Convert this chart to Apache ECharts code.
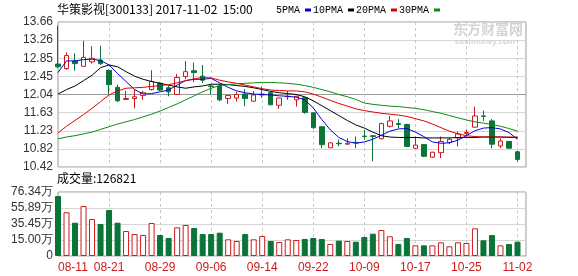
<!DOCTYPE html>
<html><head><meta charset="utf-8">
<script src="https://cdn.jsdelivr.net/npm/echarts@6/dist/echarts.min.js"></script>
<style>html,body{margin:0;padding:0;background:#fff}#c{width:578px;height:276px}</style>
</head><body><div id="c"></div>
<script>
const dates = ['08-11','08-14','08-15','08-16','08-17','08-18','08-21','08-22','08-23','08-24','08-25','08-28','08-29','08-30','08-31','09-01','09-04','09-05','09-06','09-07','09-08','09-11','09-12','09-13','09-14','09-15','09-18','09-19','09-20','09-21','09-22','09-25','09-26','09-27','09-28','09-29','10-09','10-10','10-11','10-12','10-13','10-16','10-17','10-18','10-19','10-20','10-23','10-24','10-25','10-26','10-27','10-30','10-31','11-01','11-02'];
const opens  = [12.72,12.62,12.79,12.67,12.77,12.81,12.58,12.20,11.93,11.95,12.02,12.15,12.29,12.19,12.04,12.44,12.57,12.45,12.23,12.23,11.95,11.96,12.05,11.89,12.03,12.08,11.80,11.99,11.92,11.97,11.63,11.32,10.85,10.95,10.93,10.97,11.11,11.12,11.05,11.33,11.39,11.37,10.84,10.92,10.64,10.74,10.97,11.07,11.17,11.31,11.56,11.45,10.89,10.99,10.76];
const closes = [12.66,12.91,12.73,12.87,12.85,12.73,12.26,11.90,11.95,11.99,12.08,12.33,12.14,12.10,12.42,12.55,12.53,12.36,12.22,11.92,12.02,12.04,11.95,12.03,12.05,11.81,11.96,12.00,12.00,11.64,11.30,10.92,10.96,10.94,10.95,10.96,11.10,11.10,11.39,11.45,11.37,10.88,10.91,10.66,10.75,10.99,11.04,11.16,11.19,11.56,11.55,10.93,11.00,10.84,10.59];
const lows   = [12.63,12.59,12.57,12.67,12.73,12.70,12.05,11.87,11.93,11.73,11.92,12.13,12.12,12.00,12.04,12.38,12.32,12.30,12.04,11.89,11.83,11.88,11.78,11.88,11.96,11.80,11.72,11.92,11.77,11.61,11.27,10.84,10.85,10.88,10.92,10.84,11.03,10.55,11.04,11.30,11.29,10.87,10.83,10.64,10.62,10.62,10.93,10.88,11.10,11.30,11.45,10.84,10.84,10.83,10.54];
const highs  = [13.58,12.98,12.96,13.24,13.12,13.13,12.60,12.26,12.12,12.15,12.12,12.58,12.32,12.24,12.50,12.79,12.75,12.70,12.25,12.27,12.03,12.10,12.16,12.12,12.22,12.10,11.97,12.12,12.01,11.98,11.64,11.33,10.97,11.03,11.06,11.10,11.25,11.13,11.41,11.56,11.49,11.39,11.10,10.93,10.76,11.10,11.07,11.21,11.26,11.77,11.68,11.49,11.06,11.00,10.78];
const volumes = [71.6,52.1,39.7,59.6,44.1,38.2,54.9,39.7,29.8,26.2,25.0,39.4,25.0,21.5,34.2,37.0,33.4,26.2,26.2,27.8,19.9,17.9,26.2,19.9,23.9,17.9,16.7,19.9,19.1,20.3,21.5,20.3,14.3,18.3,17.9,17.1,22.7,26.6,31.0,23.5,14.3,21.5,12.7,12.7,12.7,16.3,11.5,16.3,15.5,33.0,18.7,25.0,12.7,14.3,17.1];
const ma5  = [12.53,12.79,12.79,12.82,12.83,12.80,12.70,12.51,12.33,12.15,12.05,12.06,12.10,12.14,12.25,12.35,12.38,12.38,12.40,12.30,12.20,12.12,12.08,12.05,12.04,12.03,12.01,12.00,11.98,11.92,11.74,11.48,11.25,11.08,10.99,10.95,10.98,11.04,11.13,11.22,11.27,11.28,11.20,11.10,10.98,10.95,10.96,11.02,11.12,11.23,11.29,11.30,11.27,11.19,11.04];
const ma10 = [12.05,12.15,12.23,12.35,12.47,12.64,12.70,12.66,12.55,12.45,12.38,12.33,12.29,12.25,12.21,12.18,12.21,12.23,12.27,12.27,12.26,12.24,12.22,12.19,12.15,12.11,12.08,12.06,12.04,11.99,11.90,11.79,11.68,11.57,11.46,11.36,11.29,11.20,11.12,11.09,11.08,11.08,11.08,11.07,11.07,11.07,11.07,11.08,11.08,11.08,11.09,11.09,11.09,11.08,11.08];
const ma20 = [11.18,11.33,11.46,11.59,11.73,11.88,12.03,12.12,12.18,12.19,12.20,12.22,12.24,12.26,12.30,12.35,12.39,12.42,12.41,12.36,12.32,12.29,12.25,12.21,12.17,12.14,12.13,12.12,12.12,12.10,12.05,11.98,11.91,11.84,11.78,11.72,11.68,11.65,11.62,11.60,11.58,11.55,11.50,11.45,11.38,11.30,11.22,11.16,11.12,11.10,11.09,11.09,11.09,11.09,11.09];
const ma30 = [11.05,11.09,11.12,11.16,11.20,11.26,11.32,11.38,11.43,11.48,11.54,11.60,11.67,11.75,11.83,11.92,12.01,12.10,12.18,12.24,12.26,12.28,12.29,12.30,12.31,12.31,12.30,12.29,12.27,12.24,12.20,12.15,12.10,12.04,11.99,11.93,11.85,11.82,11.80,11.78,11.77,11.75,11.73,11.70,11.66,11.62,11.57,11.52,11.47,11.43,11.40,11.37,11.33,11.28,11.22];
const priceTicks = ['10.42','10.82','11.23','11.63','12.04','12.45','12.85','13.26','13.66'];
const volTicks = ['0','15.00万','35.45万','55.89万','76.34万'];
const legendNames = ['5PMA','10PMA','20PMA','30PMA'];
const titleText = '华策影视[300133] 2017-11-02  15:00';
const volText = '成交量:126821';

const RED = '#cc1a1a', GREEN = '#0b7438';
const maColors = ['#0000dd','#000000','#dd0000','#118811'];
const cats = dates.concat(['']);
const chart = echarts.init(document.getElementById('c'), null, {renderer: 'canvas'});
const axisFont = {fontFamily: '"Liberation Sans", Arial, sans-serif', fontSize: 12, color: '#333'};
const mkX = (gi, showLabel) => ({
  type: 'category', gridIndex: gi, data: cats, boundaryGap: false,
  axisLine: {show: false}, axisTick: {show: false},
  axisLabel: showLabel ? {show: true, interval: 5, color: RED, fontSize: 12, fontFamily: '"Liberation Sans", Arial, sans-serif', margin: 6, alignMinLabel: 'left'} : {show: false},
  splitLine: {show: true, interval: 5, lineStyle: {color: '#c8c8c8', type: [3, 3], width: 1}}
});
const hColors = ['#d6d6d6','#d6d6d6','#d6d6d6','#d6d6d6','#999999','#d6d6d6','#d6d6d6','#d6d6d6','#d6d6d6'];
chart.setOption({
  animation: false,
  grid: [
    {left: 58, top: 22, width: 468, height: 145, show: true, borderColor: '#999', borderWidth: 1},
    {left: 58, top: 192, width: 468, height: 64, show: true, borderColor: '#999', borderWidth: 1}
  ],
  legend: {data: legendNames, left: 276, top: 5, align: 'right', icon: 'rect', itemWidth: 6, itemHeight: 3, itemGap: 2, selectedMode: false, padding: 0,
    textStyle: {fontSize: 10, color: '#000', fontFamily: '"Liberation Mono", "DejaVu Sans Mono", monospace', padding: [0, 0, 0, 0]}},
  xAxis: [mkX(0, false), mkX(1, true)],
  yAxis: [
    {type: 'value', gridIndex: 0, min: 10.42, max: 13.66, interval: 0.405,
      axisLine: {show: false}, axisTick: {show: false},
      axisLabel: Object.assign({margin: 5, formatter: v => priceTicks[Math.round((v - 10.42) / 0.405)] || ''}, axisFont),
      splitLine: {show: true, lineStyle: {color: hColors, width: 1}}},
    {type: 'value', gridIndex: 1, min: 0, max: 76.34, interval: 19.085,
      axisLine: {show: false}, axisTick: {show: false},
      axisLabel: Object.assign({margin: 5, formatter: v => volTicks[Math.round(v / 19.085)] || ''}, axisFont),
      splitLine: {show: true, lineStyle: {color: '#d6d6d6', width: 1}}}
  ],
  series: [
    {type: 'candlestick', xAxisIndex: 0, yAxisIndex: 0, barWidth: 5,
      data: dates.map((d, i) => [opens[i], closes[i], lows[i], highs[i]]),
      itemStyle: {color: '#fff', color0: GREEN, borderColor: RED, borderColor0: GREEN, borderWidth: 1}},
    ...legendNames.map((n, k) => ({
      name: n, type: 'line', xAxisIndex: 0, yAxisIndex: 0, symbol: 'none', smooth: false,
      data: [ma5, ma10, ma20, ma30][k],
      lineStyle: {width: 1, color: maColors[k]}, itemStyle: {color: maColors[k]}
    })),
    {type: 'bar', xAxisIndex: 1, yAxisIndex: 1, barWidth: 6,
      data: volumes.map((v, i) => ({value: v, itemStyle: closes[i] >= opens[i]
        ? {color: '#fff', borderColor: RED, borderWidth: 1}
        : {color: GREEN, borderColor: GREEN, borderWidth: 1}}))}
  ],
  graphic: [
    {type: 'text', left: 57, top: 3, style: {text: titleText, fontSize: 12, fill: '#000', fontFamily: '"Noto Sans CJK SC", sans-serif'}},
    {type: 'text', left: 57, top: 172, style: {text: volText, fontSize: 12, fill: '#000', fontFamily: '"Noto Sans CJK SC", sans-serif'}},
    {type: 'text', left: 453, top: 22, style: {text: '东方财富网', fontSize: 14, fontWeight: 'bold', fill: '#d4d4d4', fontFamily: '"Noto Sans CJK SC", sans-serif'}},
    {type: 'text', left: 455, top: 38, style: {text: 'eastmoney.com', fontSize: 8, fontWeight: 'bold', fill: '#d4d4d4', fontFamily: '"Liberation Sans", sans-serif'}}
  ]
});
</script></body></html>
